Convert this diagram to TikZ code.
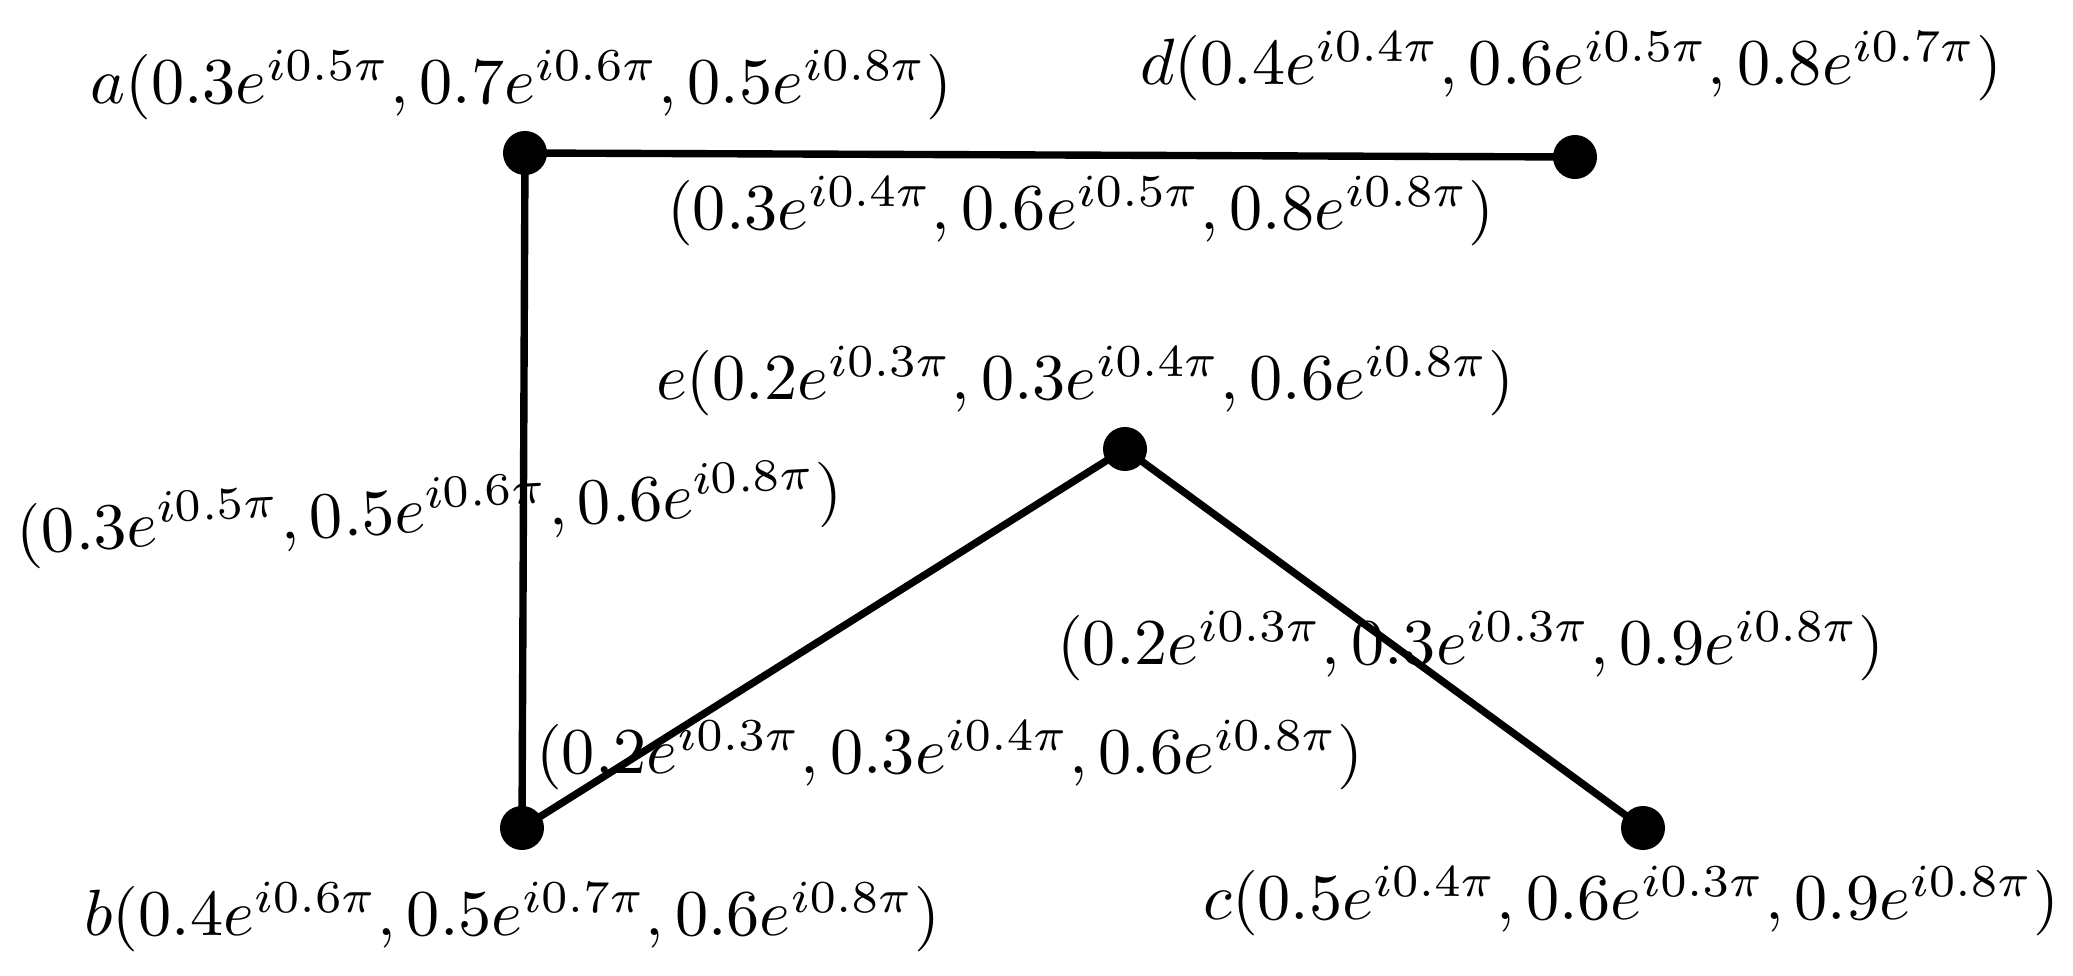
\documentclass[tikz,border=0pt]{standalone}
\usepackage{graphicx}
\newcommand{\lblmath}[1]{\scalebox{1.885}[1.86]{$#1$}}
\begin{document}
\begin{tikzpicture}[x=0.01cm,y=-0.01cm,
  vdot/.style={circle,fill=black,inner sep=0pt,minimum size=0.44cm},
  lbl/.style={inner sep=0pt,anchor=west},
  edge/.style={line width=2.1pt}]
\useasboundingbox (0,0) rectangle (2073,976);
\node[vdot] (a) at (525,153) {};
\node[vdot] (d) at (1575,157) {};
\node[vdot] (e) at (1125,449) {};
\node[vdot] (b) at (522,828) {};
\node[vdot] (c) at (1643,828) {};
\draw[edge] (a.center) -- (d.center);
\draw[edge] (a.center) -- (b.center);
\draw[edge] (b.center) -- (e.center);
\draw[edge] (e.center) -- (c.center);
\node[lbl] (la) at (89.6,85) {\lblmath{a(0.3e^{i0.5\pi}, 0.7e^{i0.6\pi}, 0.5e^{i0.8\pi})}};
\node[lbl] (ld) at (1139.6,66) {\lblmath{d(0.4e^{i0.4\pi}, 0.6e^{i0.5\pi}, 0.8e^{i0.7\pi})}};
\node[lbl] (lad) at (666.5,211) {\lblmath{(0.3e^{i0.4\pi}, 0.6e^{i0.5\pi}, 0.8e^{i0.8\pi})}};
\node[lbl] (le) at (655.4,381) {\lblmath{e(0.2e^{i0.3\pi}, 0.3e^{i0.4\pi}, 0.6e^{i0.8\pi})}};
\node[lbl,rotate=3] (lab) at (15.5,535) {\lblmath{(0.3e^{i0.5\pi}, 0.5e^{i0.6\pi}, 0.6e^{i0.8\pi})}};
\node[lbl] (lec) at (1056.5,646) {\lblmath{(0.2e^{i0.3\pi}, 0.3e^{i0.3\pi}, 0.9e^{i0.8\pi})}};
\node[lbl] (lbe) at (535.5,755) {\lblmath{(0.2e^{i0.3\pi}, 0.3e^{i0.4\pi}, 0.6e^{i0.8\pi})}};
\node[lbl] (lb) at (83.6,917) {\lblmath{b(0.4e^{i0.6\pi}, 0.5e^{i0.7\pi}, 0.6e^{i0.8\pi})}};
\node[lbl] (lc) at (1202.6,901) {\lblmath{c(0.5e^{i0.4\pi}, 0.6e^{i0.3\pi}, 0.9e^{i0.8\pi})}};
\end{tikzpicture}
\end{document}
